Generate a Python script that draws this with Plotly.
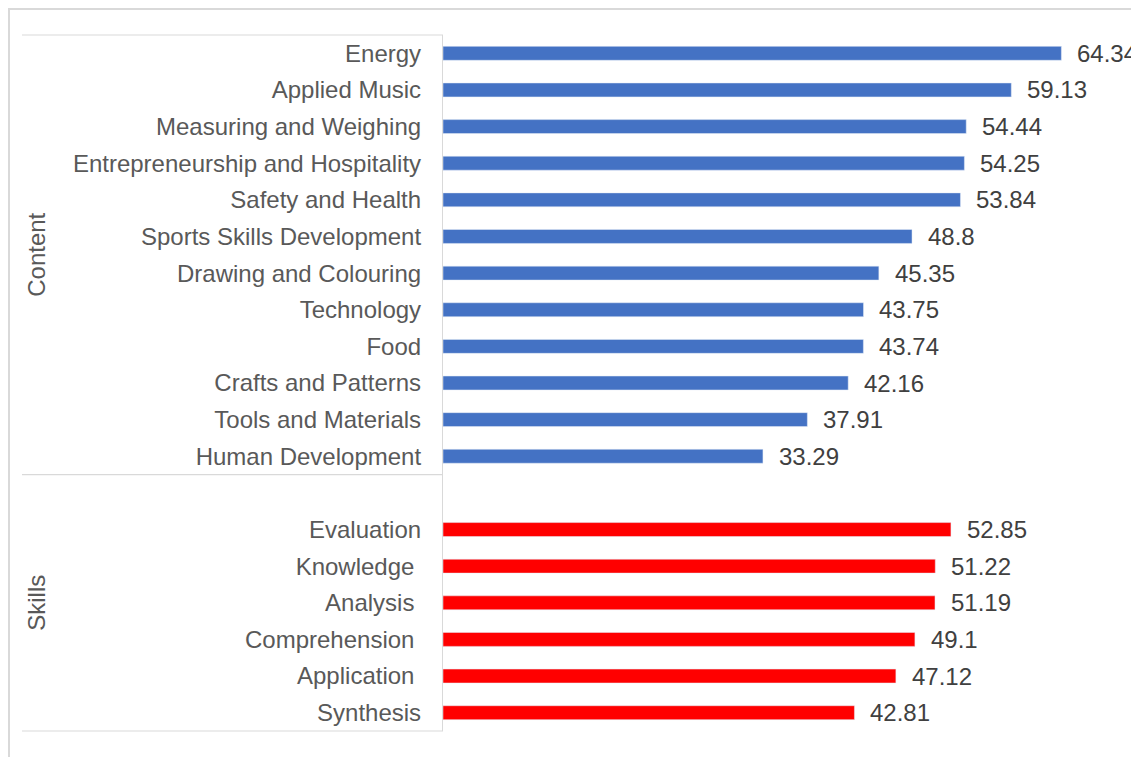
import plotly.graph_objects as go

# data
content_labels = ["Energy", "Applied Music", "Measuring and Weighing",
                  "Entrepreneurship and Hospitality", "Safety and Health",
                  "Sports Skills Development", "Drawing and Colouring",
                  "Technology", "Food", "Crafts and Patterns",
                  "Tools and Materials", "Human Development"]
content_values = [64.34, 59.13, 54.44, 54.25, 53.84, 48.8, 45.35, 43.75,
                  43.74, 42.16, 37.91, 33.29]

# a few of the source labels carry a trailing space
skills_labels = ["Evaluation", "Knowledge\u00a0", "Analysis\u00a0",
                 "Comprehension\u00a0", "Application\u00a0", "Synthesis"]
skills_values = [52.85, 51.22, 51.19, 49.1, 47.12, 42.81]

group_names = ["Content", "Skills"]

W, H = 1139, 757
L, R, T, B = 435, 12, 27, 34
FONT = "Liberation Sans, Arial, sans-serif"
LINE = "#d9d9d9"
FS = 24

gap = " "  # empty slot at the top of the Skills group
order = content_labels + [gap] + skills_labels
n_slots = len(order)

fig = go.Figure()
fig.add_trace(go.Bar(x=content_values, y=content_labels, orientation="h",
                     marker_color="#4472C4", name=group_names[0]))
fig.add_trace(go.Bar(x=skills_values, y=skills_labels, orientation="h",
                     marker_color="#FF0000", name=group_names[1]))

# value labels to the right of each bar
for lab, val in zip(content_labels + skills_labels, content_values + skills_values):
    fig.add_annotation(x=val, y=lab, xref="x", yref="y", text=str(val),
                       showarrow=False, xanchor="left", xshift=14,
                       font=dict(family=FONT, size=FS, color="#404040"))

# group brackets: lines to the left of the axis
pw = W - L - R
ph = H - T - B
x_left = (14 - L) / pw
split = (len(skills_labels) + 1) / n_slots
for yy in [1, split, 0]:
    fig.add_shape(type="line", xref="paper", yref="paper",
                  x0=x_left, x1=0, y0=yy, y1=yy,
                  line=dict(color=LINE, width=1.2))

# group labels, rotated
centers = [1 - (len(content_labels) / n_slots) / 2, split / 2]
for name, cy in zip(group_names, centers):
    fig.add_annotation(x=(29 - L) / pw, y=cy, xref="paper", yref="paper",
                       text=name, textangle=-90, showarrow=False,
                       xanchor="center", yanchor="middle",
                       font=dict(family=FONT, size=FS, color="#595959"))

# chart area border
fig.add_shape(type="rect", xref="paper", yref="paper",
              x0=(1 - L) / pw, x1=1.2, y0=-0.2, y1=1 + (T - 1) / ph,
              line=dict(color=LINE, width=2))

fig.update_layout(
    width=W, height=H,
    margin=dict(l=L, r=R, t=T, b=B),
    paper_bgcolor="white", plot_bgcolor="white",
    barmode="overlay", bargap=0.62,
    showlegend=False,
    font=dict(family=FONT, size=FS, color="#595959"),
)
fig.update_xaxes(range=[0, 72], visible=False, showgrid=False, zeroline=False)
fig.update_yaxes(type="category", categoryorder="array", categoryarray=order,
                 range=[n_slots - 0.5, -0.5], showgrid=False, zeroline=False,
                 showline=True, linecolor=LINE, linewidth=1.2, ticks="",
                 ticklabelstandoff=16,
                 tickfont=dict(family=FONT, size=FS, color="#595959"))

fig.write_html("out.html")
